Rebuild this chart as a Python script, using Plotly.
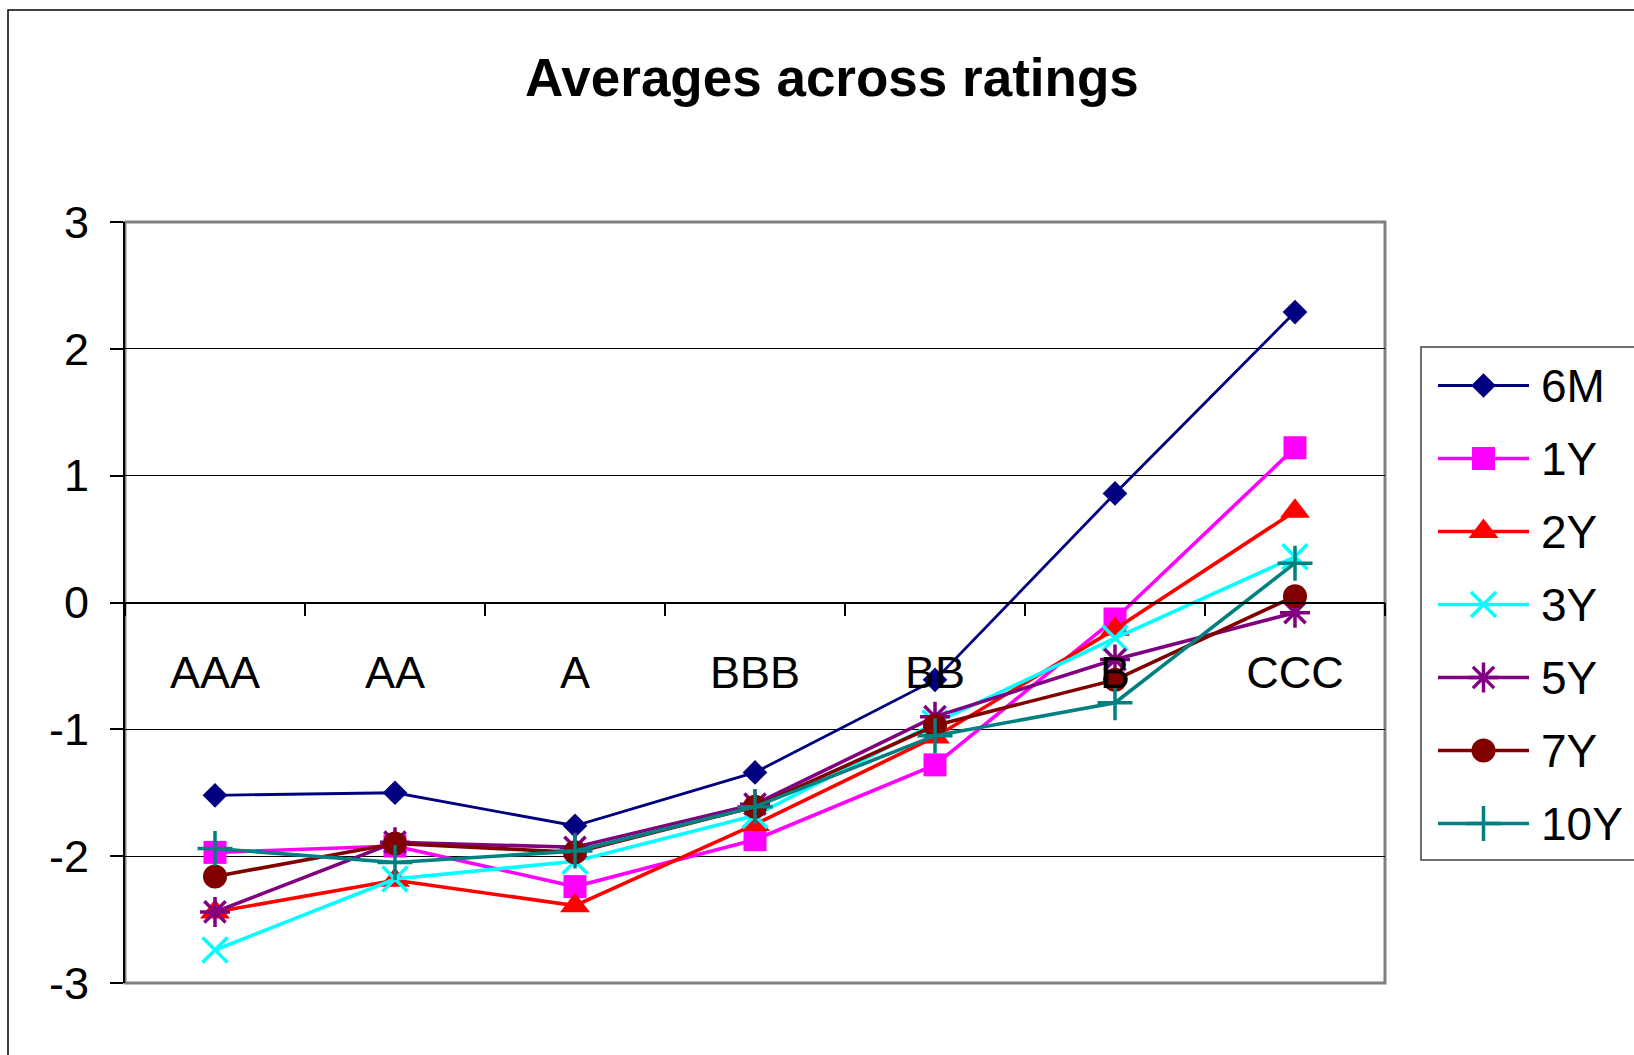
import plotly.graph_objects as go

W, H = 1634, 1055

ratings = ["AAA", "AA", "A", "BBB", "BB", "B", "CCC"]
series_names = ["6M", "1Y", "2Y", "3Y", "5Y", "7Y", "10Y"]

v_6m  = [-1.52, -1.50, -1.76, -1.34, -0.61, 0.86, 2.29]
v_1y  = [-1.97, -1.92, -2.24, -1.87, -1.28, -0.13, 1.22]
v_2y  = [-2.44, -2.19, -2.39, -1.75, -1.06, -0.21, 0.72]
v_3y  = [-2.74, -2.18, -2.04, -1.68, -0.95, -0.28, 0.36]
v_5y  = [-2.44, -1.89, -1.93, -1.59, -0.90, -0.45, -0.08]
v_7y  = [-2.16, -1.90, -1.97, -1.61, -0.97, -0.61, 0.05]
v_10y = [-1.94, -2.05, -1.96, -1.61, -1.05, -0.79, 0.31]
values = [v_6m, v_1y, v_2y, v_3y, v_5y, v_7y, v_10y]

y_ticks = [-3, -2, -1, 0, 1, 2, 3]

colors = ["#000080", "#FF00FF", "#FF0000", "#00FFFF", "#800080", "#800000", "#008080"]
symbols = ["diamond", "square", "triangle-up", "x-thin", "asterisk", "circle", "cross-thin"]
sizes = [19, 23, 26, 25, 25, 24, 25]
thin = [False, False, False, True, True, False, True]
line_w = [2.8, 3.6, 3.6, 3.6, 3.6, 3.6, 3.6]

FONT = "Liberation Sans, Arial, sans-serif"

# plot area in pixels
PL, PR, PT, PB = 125, 1385, 222, 983
ydom = [(H - PB) / H, (H - PT) / H]
xdom = [PL / W, PR / W]
ymin, ymax = -3, 3
zero_pos = ydom[0] + (ydom[1] - ydom[0]) * (0 - ymin) / (ymax - ymin)

fig = go.Figure()

def marker_spec(i):
    if thin[i]:
        return dict(symbol=symbols[i], size=sizes[i], color=colors[i],
                    line=dict(color=colors[i], width=3.5))
    return dict(symbol=symbols[i], size=sizes[i], color=colors[i], line=dict(width=0))

for i, name in enumerate(series_names):
    fig.add_trace(go.Scatter(
        x=ratings, y=values[i], name=name, mode="lines+markers",
        line=dict(color=colors[i], width=line_w[i]),
        marker=marker_spec(i), showlegend=False, cliponaxis=False,
        xaxis="x", yaxis="y",
    ))

# custom legend drawn on its own small axes
LX0, LX1 = 1438, 1529
item_y0, item_dy = 385.5, 73
leg_top = item_y0 - item_dy / 2
leg_bot = item_y0 + item_dy * (len(series_names) - 1) + item_dy / 2
for i, name in enumerate(series_names):
    fig.add_trace(go.Scatter(x=[0, 1], y=[i, i], mode="lines",
                             line=dict(color=colors[i], width=line_w[i]),
                             showlegend=False, hoverinfo="skip",
                             xaxis="x2", yaxis="y2"))
    fig.add_trace(go.Scatter(x=[0.5], y=[i], mode="markers",
                             marker=marker_spec(i), showlegend=False,
                             hoverinfo="skip", cliponaxis=False,
                             xaxis="x2", yaxis="y2"))
    fig.add_annotation(text=name, x=1539 / W, xref="paper", y=i, yref="y2",
                       xanchor="left", yanchor="middle", showarrow=False,
                       font=dict(family=FONT, size=46, color="black"))

fig.update_layout(
    width=W, height=H,
    margin=dict(l=0, r=0, t=0, b=0, pad=0, autoexpand=False),
    paper_bgcolor="white", plot_bgcolor="white",
    xaxis=dict(
        type="category", categoryorder="array", categoryarray=ratings,
        range=[-0.5, len(ratings) - 0.5], domain=xdom,
        anchor="free", position=zero_pos, automargin=False,
        showline=True, linecolor="black", linewidth=1.5,
        ticks="outside", ticklen=13, tickwidth=1.5, tickcolor="black",
        tickson="boundaries", showgrid=False, zeroline=False,
        tickfont=dict(family=FONT, size=45, color="black"),
        ticklabelstandoff=31,
    ),
    yaxis=dict(
        range=[ymin, ymax], domain=ydom, anchor="x", automargin=False,
        tickmode="array", tickvals=y_ticks, ticktext=[str(t) for t in y_ticks],
        showgrid=True, gridcolor="black", gridwidth=1,
        showline=True, linecolor="black", linewidth=2, zeroline=False,
        ticks="outside", ticklen=13, tickwidth=1.5, tickcolor="black",
        tickfont=dict(family=FONT, size=45, color="black"),
        ticklabelstandoff=12,
    ),
    xaxis2=dict(domain=[LX0 / W, LX1 / W], range=[0, 1], visible=False,
                anchor="y2", fixedrange=True, automargin=False),
    yaxis2=dict(domain=[(H - leg_bot) / H, (H - leg_top) / H],
                range=[len(series_names) - 0.5, -0.5], visible=False,
                anchor="x2", fixedrange=True, automargin=False),
    showlegend=False,
)

# title
fig.add_annotation(text="<b>Averages across ratings</b>", x=832 / W, y=1 - 78 / H,
                   xref="paper", yref="paper", xanchor="center", yanchor="middle",
                   showarrow=False, font=dict(family=FONT, size=53, color="black"))

# plot-area border (gray)
fig.add_shape(type="rect", xref="paper", yref="paper",
              x0=xdom[0], x1=xdom[1], y0=ydom[0], y1=ydom[1],
              line=dict(color="#808080", width=3), layer="below")
# legend box
fig.add_shape(type="rect", xref="paper", yref="paper",
              x0=1421 / W, x1=1.05, y0=(H - 860) / H, y1=(H - 347) / H,
              line=dict(color="#404040", width=1.5))
# outer chart frame
fig.add_shape(type="rect", xref="paper", yref="paper",
              x0=8 / W, x1=1.05, y0=-0.05, y1=1 - 10 / H,
              line=dict(color="black", width=1.5))

fig.write_html("out.html")
